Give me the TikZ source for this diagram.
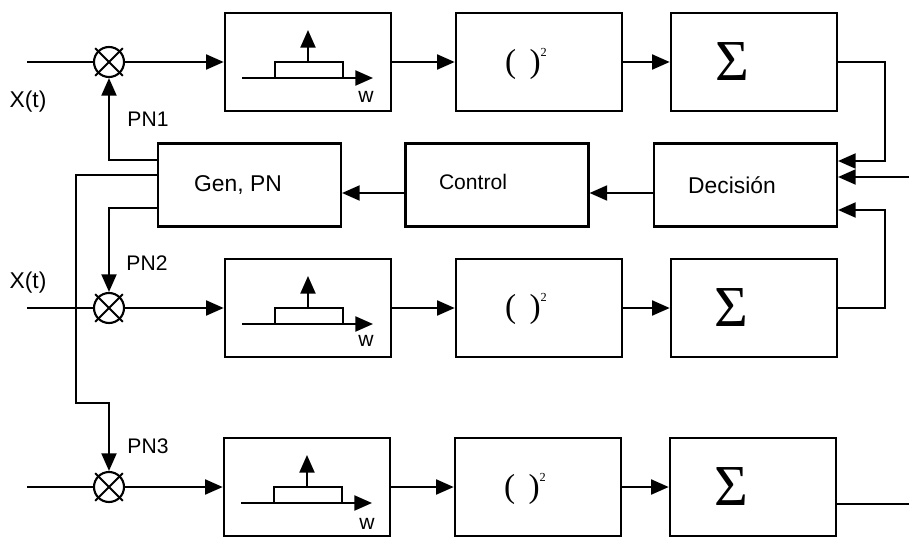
\documentclass[tikz,border=0pt]{standalone}
\usepackage{fontspec}
\setmainfont{Liberation Sans}
\newfontfamily\timesfont{Liberation Serif}
\usetikzlibrary{arrows.meta}

\begin{document}
\begin{tikzpicture}[x=0.02cm, y=-0.02cm, line width=1.2pt,
    conn/.style={-{Triangle[length=10pt,width=8.5pt]}},
    block/.style={draw, rectangle, minimum width=3.33cm, minimum height=1.96cm, inner sep=0pt},
    ctrlbox/.style={draw, rectangle, minimum width=3.66cm, minimum height=1.66cm, inner sep=0pt},
    mixer/.style={draw, circle, minimum size=0.6cm, inner sep=0pt},
    xline/.style={shorten <=-2pt, shorten >=-2pt},
    lbl/.style={font=\fontsize{12}{14}\selectfont, inner sep=0pt},
    biglbl/.style={font=\fontsize{13}{15}\selectfont, inner sep=0pt},
    sq/.style={font={\timesfont\fontsize{19}{21}\selectfont}, inner sep=0pt},
    sigma/.style={font={\timesfont\fontsize{33}{33}\selectfont}, inner sep=0pt}]

    % Page frame
    \useasboundingbox (0,0) rectangle (909,537);

    % Mixers, one per branch
    \node[mixer] (m1) at (109,62) {};
    \node[mixer] (m2) at (109,308) {};
    \node[mixer] (m3) at (109,487) {};

    % Crosses inside the mixers
    \draw[xline] (m1.north west) -- (m1.south east);
    \draw[xline] (m1.north east) -- (m1.south west);
    \draw[xline] (m2.north west) -- (m2.south east);
    \draw[xline] (m2.north east) -- (m2.south west);
    \draw[xline] (m3.north west) -- (m3.south east);
    \draw[xline] (m3.north east) -- (m3.south west);

    % Filter blocks
    \node[block] (f1) at (308,62) {};
    \node[block] (f2) at (308,308) {};
    \node[block] (f3) at (307,487) {};

    % Squaring blocks
    \node[block] (s1) at (539,62) {};
    \node[block] (s2) at (539,308) {};
    \node[block] (s3) at (538,487) {};

    % Summing blocks
    \node[block] (a1) at (754,62) {};
    \node[block] (a2) at (754,308) {};
    \node[block] (a3) at (753,487) {};

    % Generator, control and decision blocks
    \node[ctrlbox] (gen) at (249.5,185) {};
    \node[ctrlbox] (ctl) at (497,185) {};
    \node[ctrlbox] (dec) at (745.5,185) {};

    % Block texts
    \node[biglbl] (gentxt) at (238,185) {Gen, PN};
    \node[lbl] (ctltxt) at (473,182) {Control};
    \node[biglbl] (dectxt) at (732,185) {Decisión};
    \node[sq] (sq1) at (526,64) {(\hspace{0.4em})\raisebox{9pt}{\fontsize{7}{7}\selectfont 2}};
    \node[sq] (sq2) at (526,309) {(\hspace{0.4em})\raisebox{9pt}{\fontsize{7}{7}\selectfont 2}};
    \node[sq] (sq3) at (525,489) {(\hspace{0.4em})\raisebox{9pt}{\fontsize{7}{7}\selectfont 2}};
    \node[sigma] (sum1) at (732,62) {Σ};
    \node[sigma] (sum2) at (731,308) {Σ};
    \node[sigma] (sum3) at (731,487) {Σ};

    % Filter symbol drawn in each filter block
    \begin{scope}[shift={(f1.center)}]
        \draw (-33,0) rectangle (35,16);
        \draw[conn] (-66,16) -- (65,16);
        \draw[conn] (0,0) -- (0,-32);
        \node[lbl] (w1) at (58,35) {w};
    \end{scope}
    \begin{scope}[shift={(f2.center)}]
        \draw (-33,0) rectangle (35,16);
        \draw[conn] (-66,16) -- (65,16);
        \draw[conn] (0,0) -- (0,-32);
        \node[lbl] (w2) at (58,33) {w};
    \end{scope}
    \begin{scope}[shift={(f3.center)}]
        \draw (-33,0) rectangle (35,16);
        \draw[conn] (-66,16) -- (65,16);
        \draw[conn] (0,0) -- (0,-32);
        \node[lbl] (w3) at (60,37) {w};
    \end{scope}

    % Inputs
    \coordinate (x1) at (27,62);
    \coordinate (x2) at (27,308);
    \coordinate (x3) at (27,487);
    \draw (x1) -- (m1.west);
    \draw (x2) -- (m2.west);
    \draw (x3) -- (m3.west);
    \node[biglbl] (xt1) at (28,102) {X(t)};
    \node[biglbl] (xt2) at (28,283) {X(t)};

    % Signal path along each branch
    \draw[conn] (m1.east) -- (f1.west);
    \draw[conn] (f1.east) -- (s1.west);
    \draw[conn] (s1.east) -- (a1.west);
    \draw[conn] (m2.east) -- (f2.west);
    \draw[conn] (f2.east) -- (s2.west);
    \draw[conn] (s2.east) -- (a2.west);
    \draw[conn] (m3.east) -- (f3.west);
    \draw[conn] (f3.east) -- (s3.west);
    \draw[conn] (s3.east) -- (a3.west);

    % Sums back to the decision block
    \coordinate (r1) at (885,161);
    \coordinate (r0) at (909,177);
    \coordinate (r2) at (885,210);
    \draw[conn] (a1.east) -| (r1) -- (dec.east |- r1);
    \draw[conn] (r0) -- (dec.east |- r0);
    \draw[conn] (a2.east) -| (r2) -- (dec.east |- r2);
    \coordinate (o3) at (909,504);
    \draw (a3.east |- o3) -- (o3);

    % Decision -> control -> generator
    \coordinate (c1) at (620,193);
    \draw[conn] (dec.west |- c1) -- (ctl.east |- c1);
    \draw[conn] (ctl.west |- c1) -- (gen.east |- c1);

    % PN codes to the mixers
    \coordinate (p1) at (109,160);
    \coordinate (p2) at (109,208);
    \coordinate (p3) at (76,175);
    \coordinate (p4) at (76,403);
    \draw[conn] (gen.west |- p1) -- (p1) -- (m1.south);
    \draw[conn] (gen.west |- p2) -- (p2) -- (m2.north);
    \draw[conn] (gen.west |- p3) -- (p3) -- (p4) -| (m3.north);
    \node[lbl] (pn1) at (148,119) {PN1};
    \node[lbl] (pn2) at (147,263) {PN2};
    \node[lbl] (pn3) at (148,446) {PN3};

\end{tikzpicture}
\end{document}
